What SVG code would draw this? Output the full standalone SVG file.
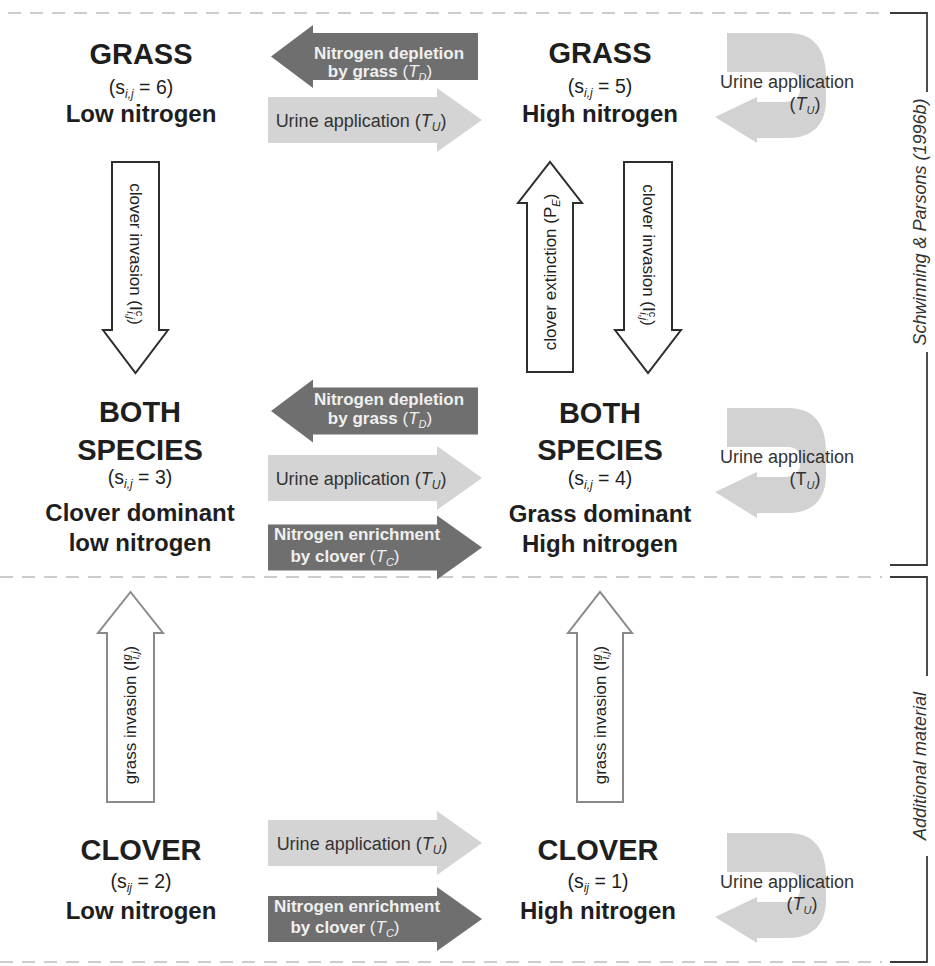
<svg xmlns="http://www.w3.org/2000/svg" width="935" height="966" viewBox="0 0 935 966">
<style>
text{font-family:"Liberation Sans",Arial,sans-serif}
.title{font-size:29px;font-weight:bold;fill:#1e1e1e;text-anchor:middle}
.sub{font-size:24px;font-weight:bold;fill:#1e1e1e;text-anchor:middle}
.state{font-size:19.5px;fill:#1e1e1e;text-anchor:middle}
.dk{fill:#6f6f6f}
.lt{fill:#d4d4d4}
.ut{fill:#d2d2d2}
.dtxt{font-size:17px;font-weight:bold;fill:#f0f0f0;text-anchor:middle}
.ltxt{font-size:18px;fill:#333;text-anchor:middle}
.utxt{font-size:18px;fill:#333;text-anchor:middle}
.vtxt{font-size:17px;fill:#222;text-anchor:middle}
.cl{fill:#fff;stroke:#2e2e2e;stroke-width:2}
.gr{fill:#fff;stroke:#8a8a8a;stroke-width:2}
.dash{stroke:#bcbcbc;stroke-width:1.5;stroke-dasharray:13 9;fill:none}
.brk{stroke:#3a3a3a;stroke-width:1.8;fill:none}
.brtxt{font-size:18px;font-style:italic;fill:#333;text-anchor:middle}
.it{font-style:italic}
.nw{font-weight:normal}
</style>
<defs>
<path id="arrR" d="M268,-23 H437 V-32 L482,0 L437,32 V23 H268 Z"/>
<path id="arrL" d="M478,-23.5 H313 V-31.5 L271,0 L313,31.5 V23.5 H478 Z"/>
<path id="uarr" d="M727,33 H788 C815,33 826,50 826,77 V100 C826,125 812,138 788,138 H757 V143 L715,117 L757,97 V102 H784 C795,102 800,97 800,90 V82 C800,76 795,72 788,72 H727 Z"/>
</defs>

<g id="frame">
<path class="dash" d="M8,13 H882 M0,577 H882 M0,962 H882"/>
<path class="brk" d="M890,13 H927 V92 M927,352 V565 H890"/>
<text class="brtxt" transform="translate(926,222) rotate(-90)">Schwinning &amp; Parsons (1996b)</text>
<path class="brk" d="M890,577 H927 V676 M927,856 V962 H890"/>
<text class="brtxt" font-size="19" transform="translate(926,766) rotate(-90)">Additional material</text>
</g>

<g id="connectors">
<use href="#arrL" class="dk" transform="translate(0,56.5)"/>
<use href="#arrR" class="lt" transform="translate(0,120)"/>
<use href="#arrL" class="dk" transform="translate(0,411)"/>
<use href="#arrR" class="lt" transform="translate(0,478)"/>
<use href="#arrR" class="dk" transform="translate(0,547.5)"/>
<use href="#arrR" class="lt" transform="translate(0,843)"/>
<use href="#arrR" class="dk" transform="translate(0,919)"/>
<use href="#uarr" class="ut"/>
<use href="#uarr" class="ut" transform="translate(0,375)"/>
<use href="#uarr" class="ut" transform="translate(0,800)"/>
<path class="cl" d="M112,162 H159 V330 H168 L135.5,373 L103,330 H112 Z"/>
<path class="cl" d="M624,162 H672 V330 H681 L648,373 L615,330 H624 Z"/>
<path class="cl" d="M527,372 V203 H518 L550,162 L582,203 H573 V372 Z"/>
<path class="gr" d="M107,802 V633 H98 L130.5,592 L163,633 H154 V802 Z"/>
<path class="gr" d="M577,802 V633 H568 L600,592 L632,633 H623 V802 Z"/>

<text class="dtxt" x="389" y="59">Nitrogen depletion</text>
<text class="dtxt" x="380" y="77">by grass  <tspan class="nw">(</tspan><tspan class="it nw">T</tspan><tspan class="it nw" font-size="11" dy="4">D</tspan><tspan class="nw" dy="-4">)</tspan></text>
<text class="ltxt" x="361" y="127">Urine application (<tspan class="it">T</tspan><tspan class="it" font-size="12" dy="4">U</tspan><tspan dy="-4">)</tspan></text>

<text class="dtxt" x="389" y="405">Nitrogen depletion</text>
<text class="dtxt" x="380" y="424">by grass  <tspan class="nw">(</tspan><tspan class="it nw">T</tspan><tspan class="it nw" font-size="11" dy="4">D</tspan><tspan class="nw" dy="-4">)</tspan></text>
<text class="ltxt" x="361" y="485">Urine application (<tspan class="it">T</tspan><tspan class="it" font-size="12" dy="4">U</tspan><tspan dy="-4">)</tspan></text>
<text class="dtxt" x="357" y="540">Nitrogen enrichment</text>
<text class="dtxt" x="345" y="562">by clover  <tspan class="nw">(</tspan><tspan class="it nw">T</tspan><tspan class="it nw" font-size="11" dy="4">C</tspan><tspan class="nw" dy="-4">)</tspan></text>

<text class="ltxt" x="362" y="850">Urine application (<tspan class="it">T</tspan><tspan class="it" font-size="12" dy="4">U</tspan><tspan dy="-4">)</tspan></text>
<text class="dtxt" x="357" y="912">Nitrogen enrichment</text>
<text class="dtxt" x="345" y="933">by clover  <tspan class="nw">(</tspan><tspan class="it nw">T</tspan><tspan class="it nw" font-size="11" dy="4">C</tspan><tspan class="nw" dy="-4">)</tspan></text>

<text class="utxt" x="787" y="88">Urine application</text>
<text class="utxt" x="805" y="110">(<tspan class="it">T</tspan><tspan class="it" font-size="11" dy="4">U</tspan><tspan dy="-4">)</tspan></text>
<text class="utxt" x="787" y="463">Urine application</text>
<text class="utxt" x="805" y="485">(T<tspan class="it" font-size="11" dy="4">U</tspan><tspan dy="-4">)</tspan></text>
<text class="utxt" x="787" y="888">Urine application</text>
<text class="utxt" x="802" y="910">(<tspan class="it">T</tspan><tspan class="it" font-size="11" dy="4">U</tspan><tspan dy="-4">)</tspan></text>

<text class="vtxt" transform="translate(130,254) rotate(90)">clover invasion  (I<tspan font-size="11" dy="-6">c</tspan><tspan class="it" font-size="11" dx="-5" dy="9">i,j</tspan><tspan dy="-3">)</tspan></text>
<text class="vtxt" transform="translate(643,255) rotate(90)">clover invasion  (I<tspan font-size="11" dy="-6">c</tspan><tspan class="it" font-size="11" dx="-5" dy="9">i,j</tspan><tspan dy="-3">)</tspan></text>
<text class="vtxt" transform="translate(556,272) rotate(-90)">clover extinction (P<tspan class="it" font-size="11" dy="4">E</tspan><tspan dy="-4">)</tspan></text>
<text class="vtxt" transform="translate(136,715) rotate(-90)">grass invasion   (I<tspan class="it" font-size="11" dy="-6">g</tspan><tspan class="it" font-size="11" dx="-5" dy="9">i,j</tspan><tspan dy="-3">)</tspan></text>
<text class="vtxt" transform="translate(606,715) rotate(-90)">grass invasion   (I<tspan class="it" font-size="11" dy="-6">g</tspan><tspan class="it" font-size="11" dx="-5" dy="9">i,j</tspan><tspan dy="-3">)</tspan></text>
</g>

<g id="node-grass-low">
<text class="title" x="141" y="64">GRASS</text>
<text class="state" x="141" y="94">(s<tspan class="it" font-size="12" dy="4">i,j</tspan><tspan dy="-4"> = 6)</tspan></text>
<text class="sub" x="141" y="122">Low nitrogen</text>
</g>
<g id="node-grass-high">
<text class="title" x="600" y="63">GRASS</text>
<text class="state" x="600" y="93">(s<tspan class="it" font-size="12" dy="4">i,j</tspan><tspan dy="-4"> = 5)</tspan></text>
<text class="sub" x="600" y="122">High nitrogen</text>
</g>
<g id="node-both-clover">
<text class="title" x="140" y="422">BOTH</text>
<text class="title" x="140" y="460">SPECIES</text>
<text class="state" x="140" y="484">(s<tspan class="it" font-size="12" dy="4">i,j</tspan><tspan dy="-4"> = 3)</tspan></text>
<text class="sub" x="140" y="521">Clover dominant</text>
<text class="sub" x="140" y="551">low nitrogen</text>
</g>
<g id="node-both-grass">
<text class="title" x="600" y="423">BOTH</text>
<text class="title" x="600" y="460">SPECIES</text>
<text class="state" x="600" y="485">(s<tspan class="it" font-size="12" dy="4">i,j</tspan><tspan dy="-4"> = 4)</tspan></text>
<text class="sub" x="600" y="522">Grass dominant</text>
<text class="sub" x="600" y="552">High nitrogen</text>
</g>
<g id="node-clover-low">
<text class="title" x="141" y="860">CLOVER</text>
<text class="state" x="141" y="888">(s<tspan class="it" font-size="12" dy="4">ij</tspan><tspan dy="-4"> = 2)</tspan></text>
<text class="sub" x="141" y="919">Low nitrogen</text>
</g>
<g id="node-clover-high">
<text class="title" x="598" y="860">CLOVER</text>
<text class="state" x="598" y="888">(s<tspan class="it" font-size="12" dy="4">ij</tspan><tspan dy="-4"> = 1)</tspan></text>
<text class="sub" x="598" y="919">High nitrogen</text>
</g>
</svg>
